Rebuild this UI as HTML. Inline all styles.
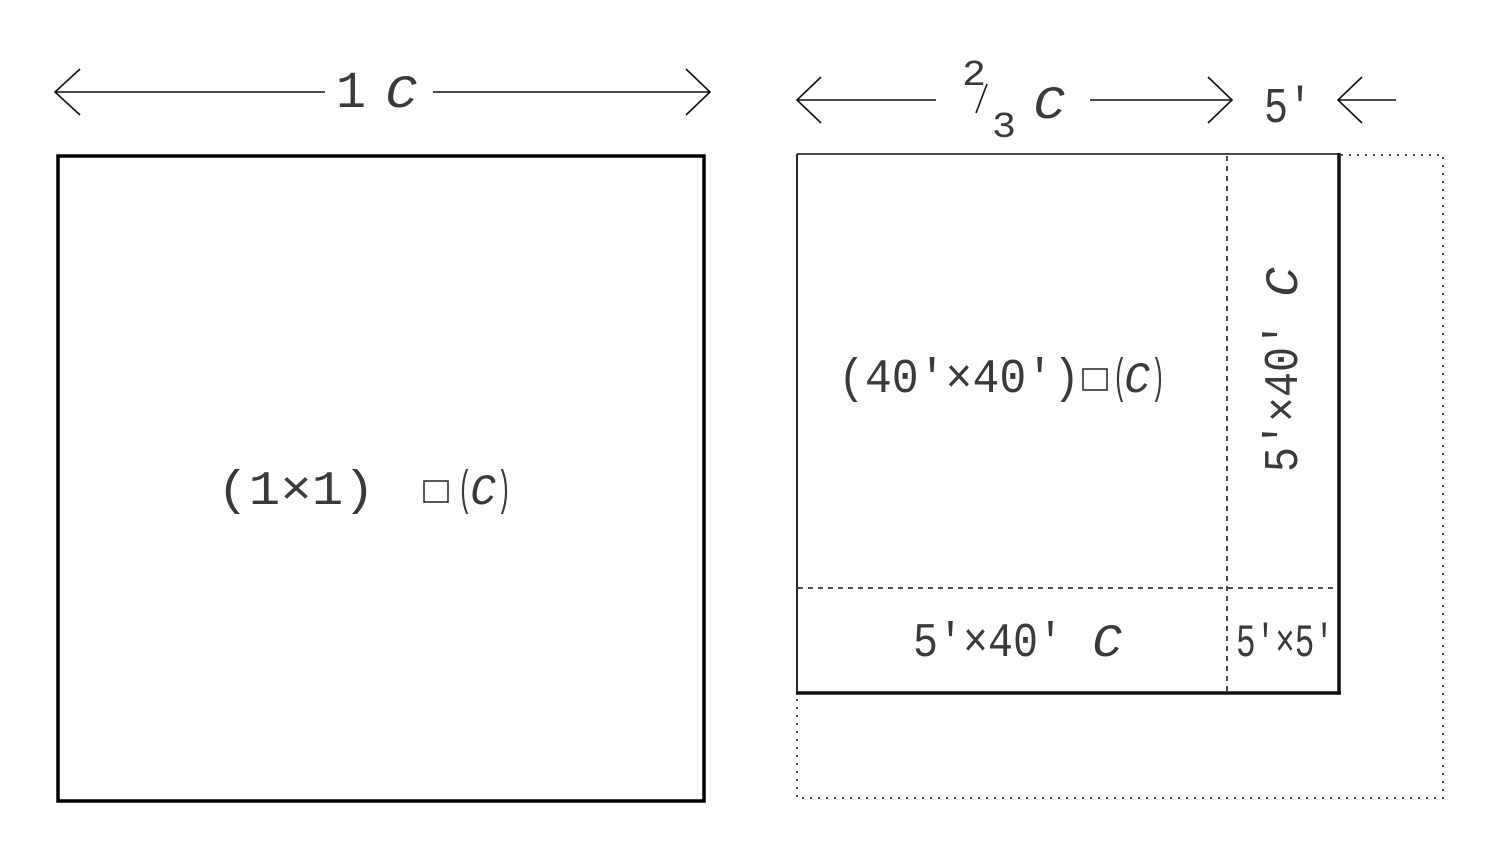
<!DOCTYPE html>
<html><head><meta charset="utf-8"><style>
html,body{margin:0;padding:0;background:#fff;}
svg{display:block}
text{font-family:"Liberation Mono","DejaVu Sans Mono",monospace;fill:#3a3a3a;}
</style></head><body>
<svg width="1500" height="860" viewBox="0 0 1500 860" xmlns="http://www.w3.org/2000/svg">
<g stroke="#111" fill="none" stroke-width="1.6">
  <line x1="55" y1="92" x2="325" y2="92"/>
  <polyline points="80,69 55,92 80,115"/>
  <line x1="433" y1="92" x2="710" y2="92"/>
  <polyline points="686,69 710,92 686,115"/>
  <line x1="797" y1="100" x2="936" y2="100"/>
  <polyline points="821,77 797,100 821,123"/>
  <line x1="1090" y1="100" x2="1232" y2="100"/>
  <polyline points="1208,77 1232,100 1208,123"/>
  <line x1="1338" y1="100" x2="1396" y2="100"/>
  <polyline points="1362,77 1338,100 1362,123"/>
  <line x1="987" y1="84" x2="976" y2="113"/>
</g>
<rect x="58" y="156" width="646" height="645" fill="none" stroke="#000" stroke-width="3.5"/>
<g fill="none" stroke="#111">
  <line x1="797" y1="154" x2="1338" y2="154" stroke-width="1.6"/>
  <line x1="797" y1="154" x2="797" y2="693" stroke-width="1.8"/>
  <line x1="1339" y1="153" x2="1339" y2="694" stroke-width="3.5"/>
  <line x1="796" y1="693" x2="1341" y2="693" stroke-width="3.5"/>
  <polyline points="1341,155 1443,155 1443,798 797,798 797,695" stroke-width="1.5" stroke-dasharray="2,6"/>
  <line x1="1227" y1="156" x2="1227" y2="692" stroke-width="1.5" stroke-dasharray="5,5"/>
  <line x1="798" y1="588" x2="1338" y2="588" stroke-width="1.5" stroke-dasharray="5,5"/>
</g>
<text x="336" y="107" font-size="52" textLength="30" lengthAdjust="spacingAndGlyphs">1</text>
<text x="385" y="107" font-size="46" font-style="italic" textLength="32" lengthAdjust="spacingAndGlyphs">C</text>
<text x="962" y="85" font-size="36" textLength="24" lengthAdjust="spacingAndGlyphs">2</text>
<text x="992" y="137" font-size="36" textLength="24" lengthAdjust="spacingAndGlyphs">3</text>
<text x="1033" y="118" font-size="46" font-style="italic" textLength="32" lengthAdjust="spacingAndGlyphs">C</text>
<text x="1264" y="122" font-size="50" textLength="48" lengthAdjust="spacingAndGlyphs">5′</text>
<text x="217" y="504" font-size="48" textLength="158" lengthAdjust="spacingAndGlyphs">(1×1)</text>
<rect x="424" y="481" width="24" height="21" fill="none" stroke="#222" stroke-width="1.5"/>
<text x="458" y="504" font-size="48" textLength="14" lengthAdjust="spacingAndGlyphs">(</text>
<text x="470" y="504" font-size="44" font-style="italic" textLength="26" lengthAdjust="spacingAndGlyphs">C</text>
<text x="497" y="504" font-size="48" textLength="14" lengthAdjust="spacingAndGlyphs">)</text>
<text x="838" y="392" font-size="48" textLength="242" lengthAdjust="spacingAndGlyphs">(40′×40′)</text>
<rect x="1083" y="369" width="24" height="21" fill="none" stroke="#222" stroke-width="1.5"/>
<text x="1113" y="392" font-size="48" textLength="14" lengthAdjust="spacingAndGlyphs">(</text>
<text x="1124" y="392" font-size="44" font-style="italic" textLength="26" lengthAdjust="spacingAndGlyphs">C</text>
<text x="1151" y="392" font-size="48" textLength="14" lengthAdjust="spacingAndGlyphs">)</text>
<text x="913" y="656" font-size="48" textLength="150" lengthAdjust="spacingAndGlyphs">5′×40′</text>
<text x="1092" y="656" font-size="46" font-style="italic" textLength="30" lengthAdjust="spacingAndGlyphs">C</text>
<text x="1236" y="656" font-size="46" textLength="98" lengthAdjust="spacingAndGlyphs">5′×5′</text>
<text transform="translate(1297,472) rotate(-90)" font-size="48" textLength="150" lengthAdjust="spacingAndGlyphs">5′×40′</text>
<text transform="translate(1297,297) rotate(-90)" font-size="46" font-style="italic" textLength="30" lengthAdjust="spacingAndGlyphs">C</text>
</svg>
</body></html>
